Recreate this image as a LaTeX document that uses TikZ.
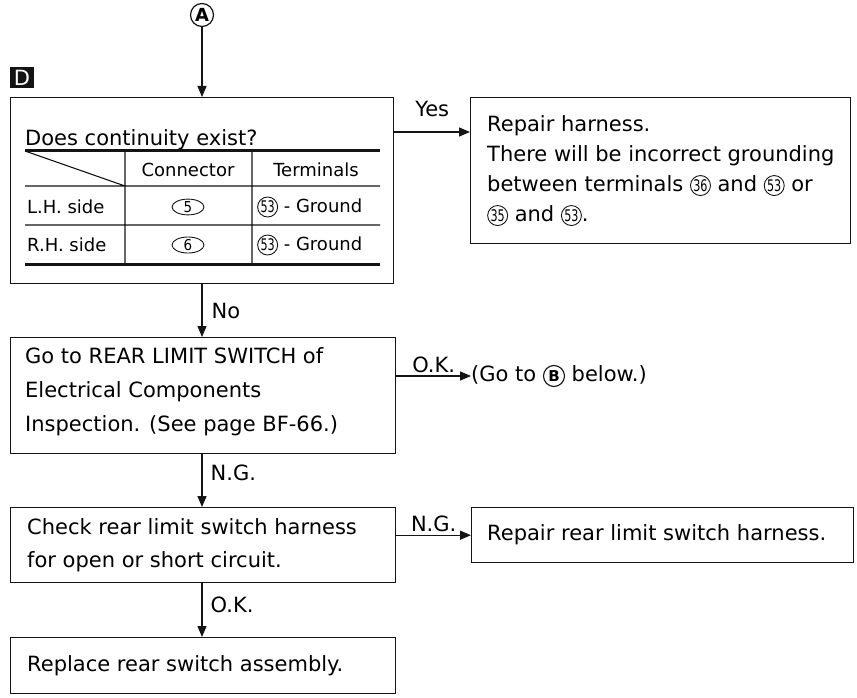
\documentclass[tikz,border=0pt]{standalone}
\usepackage{fontspec}
\setmainfont{DejaVu Sans}
\usepackage{xcolor}
\usepackage{tikz}
\usetikzlibrary{positioning, arrows.meta, shapes.geometric}
\definecolor{inkblack}{HTML}{141414}

\newcommand{\circnum}[1]{\tikz[baseline=(cn.base)]\node[draw=inkblack, circle,
  line width=0.9pt, inner sep=0pt, minimum size=20pt,
  font=\fontsize{16}{16}\selectfont] (cn) {\scalebox{0.7}[1]{#1}};}
\newcommand{\ovalnum}[1]{\tikz[baseline=(on.base)]\node[draw=inkblack, ellipse,
  line width=0.9pt, inner sep=0pt, minimum width=32pt, minimum height=15pt,
  font=\fontsize{15}{15}\selectfont] (on) {\scalebox{0.9}[1]{#1}};}
\newcommand{\circlet}[1]{\tikz[baseline=(cl.base)]\node[draw=inkblack, circle,
  line width=1.1pt, inner sep=0pt, minimum size=21pt,
  font=\bfseries\fontsize{15}{15}\selectfont] (cl) {#1};}

\begin{document}
\begin{tikzpicture}[x=1pt, y=-1pt,
  flowbox/.style={draw=inkblack, line width=1.4pt, anchor=north west, inner sep=0pt},
  txt/.style={align=left, inner sep=0pt, font=\fontsize{21}{33}\selectfont},
  cell/.style={inner sep=0pt, font=\fontsize{18}{20}\selectfont},
  lab/.style={inner sep=2pt, font=\fontsize{21}{22}\selectfont},
  arr/.style={draw=inkblack, line width=1.3pt, -{Triangle[length=11pt, width=9pt]}},
  rule/.style={draw=inkblack, line width=1.1pt},
  heavyrule/.style={draw=inkblack, line width=3pt}]

  \useasboundingbox (0,0) rectangle (857,698);

  \node[draw=inkblack, circle, line width=1.2pt, inner sep=0pt, minimum size=23pt,
        font=\bfseries\fontsize{18}{18}\selectfont] (ptA) at (202,15) {A};
  \node[fill=inkblack, text=white, inner sep=0pt, minimum width=24pt, minimum height=21pt,
        font=\fontsize{21}{21}\selectfont] (tagD) at (22,78) {D};

  \node[flowbox, minimum width=383pt, minimum height=186pt] (q1) at (10,97) {};
  \node[txt, anchor=west] (t1) at (25,140) {Does continuity exist?};

  \draw[heavyrule] (25,151) -- (380,151) (25,264) -- (380,264);
  \draw[rule] (25,186) -- (380,186) (25,225) -- (380,225)
              (125,151) -- (125,264) (252,151) -- (252,264) (25,151) -- (125,186);
  \node[cell] (hCon) at (188,170) {Connector};
  \node[cell] (hTer) at (316,170) {Terminals};
  \node[cell, anchor=west] (lhs) at (27,207) {L.H. side};
  \node[cell, anchor=west] (rhs) at (27,245) {R.H. side};
  \node[cell] (con5) at (188,207) {\ovalnum{5}};
  \node[cell] (con6) at (188,245) {\ovalnum{6}};
  \node[cell, anchor=west] (gnd1) at (257,207) {\circnum{53} - Ground};
  \node[cell, anchor=west] (gnd2) at (257,245) {\circnum{53} - Ground};

  \node[flowbox, minimum width=380pt, minimum height=146pt] (q2) at (470,97) {};
  \node[txt, font=\fontsize{21}{30}\selectfont, right=17pt of q2.west] (t2)
    {Repair harness.\\There will be incorrect grounding\\between terminals
     \circnum{36} and \circnum{53} or\\\circnum{35} and \circnum{53}.};

  \node[flowbox, minimum width=385pt, minimum height=116pt] (q3) at (10,337) {};
  \node[txt, font=\fontsize{21}{34}\selectfont, right=15pt of q3.west, yshift=4pt] (t3)
    {Go to REAR LIMIT SWITCH of\\Electrical Components\\Inspection. (See page BF-66.)};
  \node[txt, anchor=west] (goto) at (471,376) {(Go to \circlet{B} below.)};

  \node[flowbox, minimum width=385pt, minimum height=75pt] (q4) at (10,507) {};
  \node[txt, right=17pt of q4.west] (t4)
    {Check rear limit switch harness\\for open or short circuit.};

  \node[flowbox, minimum width=382pt, minimum height=55pt] (q6) at (471,507) {};
  \node[txt, right=16pt of q6.west] (t6) {Repair rear limit switch harness.};

  \node[flowbox, minimum width=385pt, minimum height=56pt] (q5) at (10,637) {};
  \node[txt, right=17pt of q5.west] (t5) {Replace rear switch assembly.};

  \draw[arr] (ptA) -- (ptA |- q1.north);
  \draw[arr] ([yshift=-35pt]q1.north east) -- node[lab, above=13pt] (lYes) {Yes}
             ([yshift=-35pt]q2.north west);
  \draw[arr] (q1.south -| ptA) -- node[lab, right=7pt] (lNo) {No} (q3.north -| ptA);
  \draw[arr] (q3.east |- goto.west) -- node[lab, above=1pt] (lOK1) {O.K.} (goto.west);
  \draw[arr] (q3.south -| ptA) -- node[lab, right=6pt, pos=0.35] (lNG1) {N.G.} (q4.north -| ptA);
  \draw[arr] (q4.east |- q6.west) -- node[lab, above=1pt] (lNG2) {N.G.} (q6.west);
  \draw[arr] (q4.south -| ptA) -- node[lab, right=6pt, pos=0.4] (lOK2) {O.K.} (q5.north -| ptA);
\end{tikzpicture}
\end{document}
